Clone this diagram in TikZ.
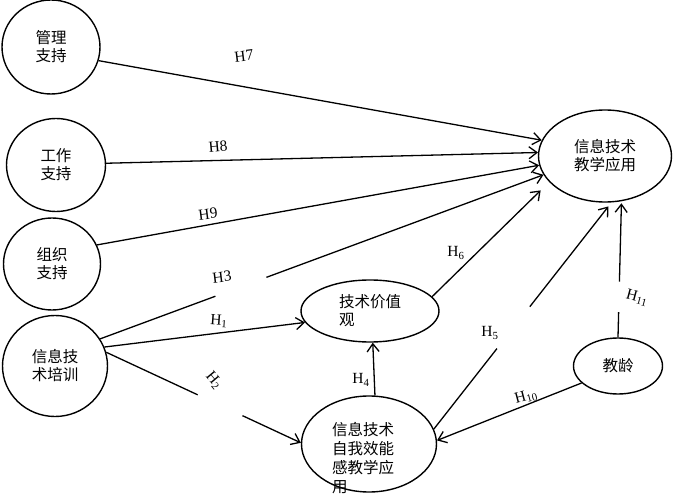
\documentclass[tikz,border=0pt]{standalone}
\usepackage{fontspec}
\setmainfont{Liberation Serif}
\newfontfamily\cjk{Noto Sans CJK SC}
\usetikzlibrary{shapes.geometric,arrows.meta}

\begin{document}
\begin{tikzpicture}[x=1pt,y=-1pt,
  var/.style={draw, ellipse, line width=1.4pt, inner sep=0pt, font=\cjk\fontsize{15.5}{18}\selectfont, align=center},
  hyp/.style={font=\fontsize{15.5}{18}\selectfont, inner sep=1pt},
  seg/.style={line width=1.3pt},
  arr/.style={seg, -{Straight Barb[length=8pt,width=12pt,line width=1.3pt]}}]
\useasboundingbox (0,0) rectangle (673,497);
% variables
\node (gl) [var, minimum width=98pt, minimum height=94pt] at (51,47) {管理\\支持};
\node (gz) [var, minimum width=99pt, minimum height=93pt] at (56,165) {工作\\支持};
\node (zz) [var, minimum width=97pt, minimum height=92pt] at (52,264) {组织\\支持};
\node (px) [var, minimum width=105pt, minimum height=101pt] at (55,366) {信息技\\术培训};
\node (yy) [var, minimum width=133pt, minimum height=92pt] at (605,156) {信息技术\\教学应用};
\node (jz) [var, align=left, minimum width=138pt, minimum height=62pt] at (370,311) {技术价值\\观};
\node (zw) [var, minimum width=135pt, minimum height=96pt,
  label={[font=\cjk\fontsize{15.5}{19}\selectfont, align=left, xshift=-6pt, yshift=-14pt]center:信息技术\\自我效能\\感教学应\\用}] at (369,444) {};
\node (jl) [var, minimum width=89pt, minimum height=56pt] at (618,366) {教龄};
% paths
\draw [arr] (gl.344) -- (yy.166);
\draw [arr] (gz.2) -- (yy.177);
\draw [arr] (zz.23) -- (yy.188);
\path (px.31) -- (yy.197) coordinate [pos=0.26] (h3a) coordinate [pos=0.375] (h3b);
\draw [seg] (px.31) -- (h3a);
\draw [arr] (h3b) -- (yy.197);
\draw [arr] (px.21) -- (jz.190);
\path (px.15) -- (zw.179) coordinate [pos=0.47] (h2a) coordinate [pos=0.7] (h2b);
\draw [seg] (px.15) -- (h2a);
\draw [arr] (h2b) -- (zw.179);
\draw [arr] (zw.83) -- (jz.275);
\draw [arr, shorten >=12pt] (jz.13) -- (yy.205);
\path (zw.13) -- (yy.278) coordinate [pos=0.355] (h5a) coordinate [pos=0.54] (h5b);
\draw [seg] (zw.13) -- (h5a);
\draw [arr, shorten >=5pt] (h5b) -- (yy.278);
\draw [arr] (jl.205) -- (zw.3);
\path (jl.north) -- (yy.290) coordinate [pos=0.185] (h11a) coordinate [pos=0.41] (h11b);
\draw [seg] (jl.north) -- (h11a);
\draw [arr, shorten >=2pt] (h11b) -- (yy.290);
% labels
\node (t7) [hyp, rotate=7] at (244,56) {H7};
\node (t8) [hyp, rotate=5] at (218,147) {H8};
\node (t9) [hyp, rotate=7] at (208,214) {H9};
\node (t3) [hyp, rotate=7] at (222,277) {H3};
\node (t1) [hyp, rotate=-4] at (219,321) {H\textsubscript{1}};
\node (t2) [hyp, rotate=-50] at (214,381) {H\textsubscript{2}};
\node (t4) [hyp] at (361,380) {H\textsubscript{4}};
\node (t5) [hyp] at (490,333) {H\textsubscript{5}};
\node (t6) [hyp] at (456,253) {H\textsubscript{6}};
\node (t10) [hyp, rotate=15] at (526,397) {H\textsubscript{10}};
\node (t11) [hyp, rotate=-15] at (637,298) {H\textsubscript{11}};
\end{tikzpicture}
\end{document}
